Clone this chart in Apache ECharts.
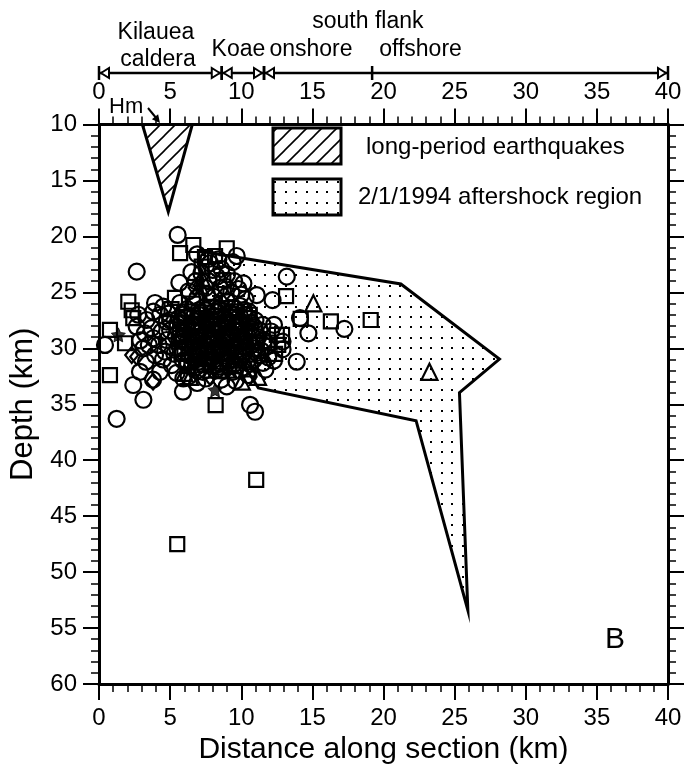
<!DOCTYPE html>
<html>
<head>
<meta charset="utf-8">
<script src="https://cdn.jsdelivr.net/npm/echarts@6/dist/echarts.min.js"></script>
<style>
  html, body { margin: 0; padding: 0; background: #fff; }
  #chart { width: 686px; height: 771px; }
</style>
</head>
<body>
<div id="chart"></div>
<script>
// ---- data (distance km, depth km) ----
const circles = [
  [5.53,19.87],[9.68,21.75],[8.39,22.05],[2.65,23.15],[13.2,23.6],[5.65,24.14],[10.15,24.2],
  [11.09,25.24],[12.2,25.7],[3.94,25.95],[5.7,25.95],[14.13,27.3],[14.72,28.66],[0.42,29.7],
  [13.9,31.2],[17.25,28.27],[11.53,31.3],[10.62,35.05],[10.97,35.67],[8.98,33.4],[1.24,36.3],
  [2.41,33.28],[3.12,34.6],[2.88,32.1],[4.29,32.1],[5.9,33.88],[3.8,32.8],
  [4.52,26.28],[3.82,26.73],[2.76,27.0],[3.35,27.47],[4.76,27.62],[2.65,28.07],[3.23,28.66],
  [3.82,29.1],[4.76,29.26],[3.12,30.0],[3.94,30.6],[4.64,30.3],[5.11,31.5],[5.46,32.2],[5.93,32.7],
  [6.3,24.9],[7.6,25.2],[8.5,24.6],[9.3,25.0],[10.3,25.6],[8.0,23.0],[9.0,23.4],[7.7,24.0],
  [6.5,23.2],[9.9,26.2],
  [11.3,28.4],[11.6,29.3],[11.4,30.2],[11.9,30.8],[12.3,27.9],[11.0,27.5],[12.9,30.1],[11.7,31.9],
  [6.9,33.1],[7.5,32.7],[9.6,32.9],[6.3,32.5],[10.5,32.4],[8.6,32.8],
  // dense core
  [5.9,26.8],[7.0,26.6],[8.1,26.7],[9.2,26.8],[10.2,26.6],
  [5.6,27.3],[6.7,27.1],[7.8,27.2],[8.9,27.3],[9.9,27.1],
  [5.5,27.8],[6.5,27.9],[7.5,27.7],[8.6,27.8],[9.6,27.9],[10.7,27.7],
  [6.2,28.4],[7.3,28.2],[8.4,28.3],[9.5,28.4],[10.6,28.2],
  [5.4,28.9],[6.5,29.0],[7.6,28.8],[8.7,28.9],[9.7,29.0],[10.8,28.9],
  [6.2,29.5],[7.3,29.3],[8.4,29.4],[9.4,29.5],[10.5,29.4],
  [5.5,30.0],[6.6,30.1],[7.6,29.9],[8.7,30.0],[9.8,30.1],[10.9,30.0],
  [6.3,30.6],[7.4,30.4],[8.5,30.5],[9.6,30.6],[10.7,30.5],
  [5.9,31.1],[7.0,31.2],[8.1,31.0],[9.2,31.1],[10.4,31.2],
  [6.8,31.7],[8.0,31.5],[9.1,31.6],[10.2,31.7],
  [7.3,32.1],[8.6,32.0],[9.9,32.0],
  [6.2,26.5],[7.3,26.4],[8.4,26.5],[9.5,26.4],[10.5,26.7],
  [5.9,27.0],[7.0,27.0],[8.1,27.1],[9.2,26.9],[10.2,27.0],
  [5.8,27.5],[6.8,27.6],[7.9,27.5],[9.0,27.5],[10.0,27.6],
  [5.5,28.1],[6.6,28.1],[7.6,28.2],[8.7,28.1],[9.8,28.1],[10.9,28.1],
  [6.0,28.6],[7.1,28.6],[8.2,28.7],[9.3,28.6],[10.4,28.6],
  [5.8,29.2],[6.9,29.2],[8.0,29.2],[9.0,29.2],[10.2,29.2],[11.2,29.0],
  [6.4,29.7],[7.5,29.7],[8.6,29.7],[9.6,29.8],[10.7,29.7],
  [5.9,30.3],[7.0,30.3],[8.0,30.3],[9.1,30.3],[10.2,30.3],[11.1,30.4],
  [6.6,30.8],[7.8,30.8],[8.9,30.9],[10.0,30.8],[10.9,31.0],
  [6.2,31.3],[7.3,31.4],[8.4,31.3],[9.5,31.4],[10.6,31.4],
  [6.9,32.0],[8.2,32.0],[9.4,32.1],
  // upper part of the cloud
  [6.9,21.6],[7.8,22.4],[8.6,22.9],[9.4,22.3],[7.2,23.3],[8.3,23.6],[9.5,24.0],[6.8,24.0],
  [7.5,24.6],[8.1,25.4],[9.0,25.8],[6.9,25.5],[9.8,24.7],[7.7,22.0],[8.9,24.5],[10.0,25.2],
  // left and right flanks
  [4.3,27.0],[5.0,27.5],[3.7,28.2],[4.4,28.5],[5.0,28.4],[4.2,29.7],[4.9,29.8],[3.5,29.7],
  [4.5,31.0],[5.3,30.5],[2.9,29.3],[3.3,31.2],[4.9,26.9],
  [11.5,27.9],[12.1,28.5],[11.8,29.8],[12.3,31.1],[11.2,30.6],[12.9,29.4]
];
const squares = [
  [6.63,20.77],[5.7,21.5],[8.98,21.06],[7.45,21.84],[8.16,21.75],[7.22,22.7],[8.74,23.9],
  [13.15,25.33],[2.06,25.84],[5.34,25.5],[14.18,27.37],[16.3,27.6],[19.1,27.47],[0.77,28.36],
  [1.83,29.55],[0.77,32.4],[8.2,35.07],[11.05,41.75],[5.5,47.5],
  [12.5,28.8],[12.38,30.5],[12.0,29.5],[12.87,28.8],[12.6,29.7],[2.3,26.6],[2.41,27.3],
  [5.1,26.5],[9.3,26.4],[7.9,26.3],[6.6,26.0],[10.6,27.0],
  [6.5,26.7],[7.6,26.8],[8.6,26.6],[9.7,26.7],
  [6.1,27.2],[7.2,27.3],[8.3,27.1],[9.4,27.2],[10.5,27.3],
  [6.0,27.7],[7.0,27.8],[8.0,27.9],[9.1,27.7],[10.1,27.8],
  [5.7,28.3],[6.8,28.4],[7.9,28.3],[8.9,28.2],[10.0,28.3],[11.0,28.4],
  [5.9,28.8],[7.0,28.9],[8.1,29.0],[9.2,28.8],[10.3,28.9],
  [5.6,29.4],[6.7,29.5],[7.8,29.3],[8.9,29.4],[10.0,29.3],[11.1,29.5],
  [6.0,30.0],[7.1,29.9],[8.2,30.1],[9.3,30.0],[10.3,29.9],
  [5.8,30.5],[6.9,30.6],[8.0,30.4],[9.0,30.5],[10.1,30.6],
  [6.5,31.1],[7.6,31.0],[8.7,31.2],[9.8,31.1],
  [6.2,31.6],[7.4,31.5],[8.5,31.7],[9.6,31.6]
];
const triangles = [
  [15.07,25.98],[23.23,32.1],[10.04,32.98],[11.18,32.56],[6.4,32.56],[7.22,23.7],[7.1,24.4],
  [9.1,31.9],[8.3,26.0],
  [7.2,30.8],[8.8,29.7],[9.9,28.6],[6.4,28.0],[10.5,31.8],[7.9,31.9],[6.0,32.2]
];
const diamonds = [
  [2.3,30.6],[2.65,30.75],[3.8,32.98],[7.8,32.54],[6.75,24.6],[8.8,25.2],
  [8.3,28.6],[6.9,29.8],[9.5,30.3],[7.7,27.4]
];
const stars = [[1.36,28.8],[8.16,33.73],[7.5,26.9]];

const longPeriodRegion = [[3.05,10],[6.56,10],[4.87,17.8]];
const aftershockRegion = [
  [7.0,21.3],[21.22,24.25],[28.15,30.96],[25.34,33.97],[25.93,53.4],
  [22.29,36.47],[11.2,33.55],[10.2,31.5],[7.5,28.0]
];

// top annotation: region spans along the section, and the onshore/offshore divider
const regionSpans = [[0,8.63],[8.63,11.6],[11.6,40]];
const regionDividers = [19.2];
const regionNames = ['Kilauea','caldera','Koae','onshore','south flank','offshore'];
const regionNameX = [4.0, 4.15, 9.8, 14.9, 18.9, 22.6];
const regionNameRise = [40, 13, 23, 23, 51, 23]; // px above the span line

const FONT = '"Liberation Sans", Arial, Helvetica, sans-serif';

// fill patterns
function makeHatch() {
  const c = document.createElement('canvas');
  c.width = 15; c.height = 15;
  const ctx = c.getContext('2d');
  ctx.strokeStyle = '#000';
  ctx.lineWidth = 1.6;
  ctx.beginPath(); ctx.moveTo(-2, 17); ctx.lineTo(17, -2); ctx.stroke();
  ctx.beginPath(); ctx.moveTo(-2, 2); ctx.lineTo(2, -2); ctx.stroke();
  ctx.beginPath(); ctx.moveTo(13, 17); ctx.lineTo(17, 13); ctx.stroke();
  return { image: c, repeat: 'repeat' };
}
function makeDots() {
  const c = document.createElement('canvas');
  c.width = 52; c.height = 52;
  const ctx = c.getContext('2d');
  ctx.fillStyle = '#000';
  for (let i = 0; i < 5; i++) {
    for (let j = 0; j < 5; j++) {
      ctx.fillRect(Math.round(i * 10.4) + 4, Math.round(j * 10.4) + 4, 2, 2);
    }
  }
  return { image: c, repeat: 'repeat' };
}
const hatch = makeHatch();
const dots = makeDots();

const chart = echarts.init(document.getElementById('chart'));

const axisBase = {
  type: 'value',
  axisLine: { show: true, onZero: false, lineStyle: { color: '#000', width: 3 } },
  axisTick: { show: true, length: 16, lineStyle: { color: '#000', width: 2 } },
  minorTick: { show: true, splitNumber: 5, length: 8, lineStyle: { color: '#000', width: 1.5 } },
  splitLine: { show: false },
  minorSplitLine: { show: false },
  axisLabel: { color: '#000', fontSize: 24, fontFamily: FONT }
};

const regionShape = (params, api) => {
  const a = api.coord([api.value(0), 0]);
  const b = api.coord([api.value(1), 0]);
  const y = a[1];
  const st = { stroke: '#000', lineWidth: 2.5 };
  const tri = { fill: '#fff', stroke: '#000', lineWidth: 2 };
  return {
    type: 'group',
    children: [
      { type: 'line', shape: { x1: a[0], y1: y, x2: b[0], y2: y }, style: st },
      { type: 'line', shape: { x1: a[0], y1: y - 7, x2: a[0], y2: y + 7 }, style: st },
      { type: 'line', shape: { x1: b[0], y1: y - 7, x2: b[0], y2: y + 7 }, style: st },
      { type: 'polygon', shape: { points: [[a[0] + 2, y], [a[0] + 10, y - 5], [a[0] + 10, y + 5]] }, style: tri },
      { type: 'polygon', shape: { points: [[b[0] - 2, y], [b[0] - 10, y - 5], [b[0] - 10, y + 5]] }, style: tri }
    ]
  };
};

// open (unfilled) symbols, so overlapping rings pile up into the dark core
const openSym = (name, symbol, size, data) => ({
  name, type: 'scatter', symbol, symbolSize: size, data,
  xAxisIndex: 0, yAxisIndex: 0, z: 3,
  itemStyle: { color: 'rgba(0,0,0,0)', borderColor: '#000', borderWidth: 2.2, opacity: 1 }
});

chart.setOption({
  animation: false,
  backgroundColor: '#fff',
  grid: [
    { left: 99, right: 18, top: 124.5, bottom: 87 },
    { left: 99, right: 18, top: 10, height: 63 }
  ],
  xAxis: [
    Object.assign({}, axisBase, {
      gridIndex: 0, min: 0, max: 40, interval: 5, position: 'bottom',
      axisLabel: Object.assign({}, axisBase.axisLabel, { margin: 22 }),
      name: 'Distance along section (km)', nameLocation: 'middle', nameGap: 50,
      nameTextStyle: { color: '#000', fontSize: 30, fontFamily: FONT }
    }),
    Object.assign({}, axisBase, {
      gridIndex: 0, min: 0, max: 40, interval: 5, position: 'top',
      axisLabel: Object.assign({}, axisBase.axisLabel, { margin: 20 })
    }),
    { type: 'value', gridIndex: 1, min: 0, max: 40, show: false }
  ],
  yAxis: [
    Object.assign({}, axisBase, {
      gridIndex: 0, min: 10, max: 60, interval: 5, inverse: true, position: 'left',
      axisLabel: Object.assign({}, axisBase.axisLabel, { margin: 22 }),
      name: 'Depth (km)', nameLocation: 'middle', nameGap: 52, nameRotate: 90,
      nameTextStyle: { color: '#000', fontSize: 31, fontFamily: FONT }
    }),
    Object.assign({}, axisBase, {
      gridIndex: 0, min: 10, max: 60, interval: 5, inverse: true, position: 'right',
      axisLabel: { show: false }
    }),
    { type: 'value', gridIndex: 1, min: 0, max: 63, show: false }
  ],
  series: [
    {
      type: 'custom', name: '2/1/1994 aftershock region',
      xAxisIndex: 0, yAxisIndex: 0, z: 1, data: [[0, 10]],
      renderItem: (params, api) => ({
        type: 'polygon',
        shape: { points: aftershockRegion.map(p => api.coord(p)) },
        style: { fill: dots, stroke: '#000', lineWidth: 3, lineJoin: 'miter', miterLimit: 20 }
      })
    },
    {
      type: 'custom', name: 'long-period earthquakes',
      xAxisIndex: 0, yAxisIndex: 0, z: 1, data: [[0, 10]],
      renderItem: (params, api) => ({
        type: 'polygon',
        shape: { points: longPeriodRegion.map(p => api.coord(p)) },
        style: { fill: hatch, stroke: '#000', lineWidth: 3, lineJoin: 'miter', miterLimit: 20 }
      })
    },
    openSym('squares', 'rect', 14, squares),
    openSym('circles', 'circle', 16, circles),
    openSym('triangles', 'triangle', 16, triangles),
    openSym('diamonds', 'diamond', [13, 16], diamonds),
    {
      name: 'stars', type: 'scatter', z: 4, data: stars,
      symbol: 'path://M0,-10L2.9,-4L9.5,-3.1L4.7,1.5L5.9,8.1L0,5L-5.9,8.1L-4.7,1.5L-9.5,-3.1L-2.9,-4Z',
      symbolSize: 14,
      itemStyle: { color: '#000', borderColor: '#000', borderWidth: 1 }
    },
    {
      type: 'custom', name: 'regions', xAxisIndex: 2, yAxisIndex: 2,
      data: regionSpans, renderItem: regionShape
    },
    {
      type: 'custom', name: 'divider', xAxisIndex: 2, yAxisIndex: 2,
      data: regionDividers.map(x => [x, 0]),
      renderItem: (params, api) => {
        const p = api.coord([api.value(0), 0]);
        return { type: 'line', shape: { x1: p[0], y1: p[1] - 7, x2: p[0], y2: p[1] + 7 },
                 style: { stroke: '#000', lineWidth: 2.5 } };
      }
    },
    {
      type: 'custom', name: 'region names', xAxisIndex: 2, yAxisIndex: 2,
      data: regionNameX.map((x, i) => [x, regionNameRise[i]]),
      renderItem: (params, api) => {
        const p = api.coord([api.value(0), api.value(1)]);
        return { type: 'text', x: p[0], y: p[1],
                 style: { text: regionNames[params.dataIndex], font: '23px ' + FONT,
                          fill: '#000', align: 'center', verticalAlign: 'middle' } };
      }
    }
  ],
  graphic: [
    { type: 'rect', shape: { x: 273, y: 128, width: 68, height: 36 },
      style: { fill: hatch, stroke: '#000', lineWidth: 3 } },
    { type: 'text', x: 366, y: 147,
      style: { text: 'long-period earthquakes', font: '24px ' + FONT, fill: '#000', verticalAlign: 'middle' } },
    { type: 'rect', shape: { x: 273, y: 179, width: 68, height: 36 },
      style: { fill: dots, stroke: '#000', lineWidth: 3 } },
    { type: 'text', x: 358, y: 197,
      style: { text: '2/1/1994 aftershock region', font: '24px ' + FONT, fill: '#000', verticalAlign: 'middle' } },
    { type: 'text', x: 615, y: 640,
      style: { text: 'B', font: '30px ' + FONT, fill: '#000', align: 'center', verticalAlign: 'middle' } },
    { type: 'text', x: 109, y: 107,
      style: { text: 'Hm', font: '22px ' + FONT, fill: '#000', verticalAlign: 'middle' } },
    { type: 'line', shape: { x1: 148, y1: 108, x2: 157, y2: 119 },
      style: { stroke: '#000', lineWidth: 2 } },
    { type: 'polygon', shape: { points: [[160, 123], [151.9, 119.3], [158.1, 114.3]] },
      style: { fill: '#000' } }
  ]
});
</script>
</body>
</html>
